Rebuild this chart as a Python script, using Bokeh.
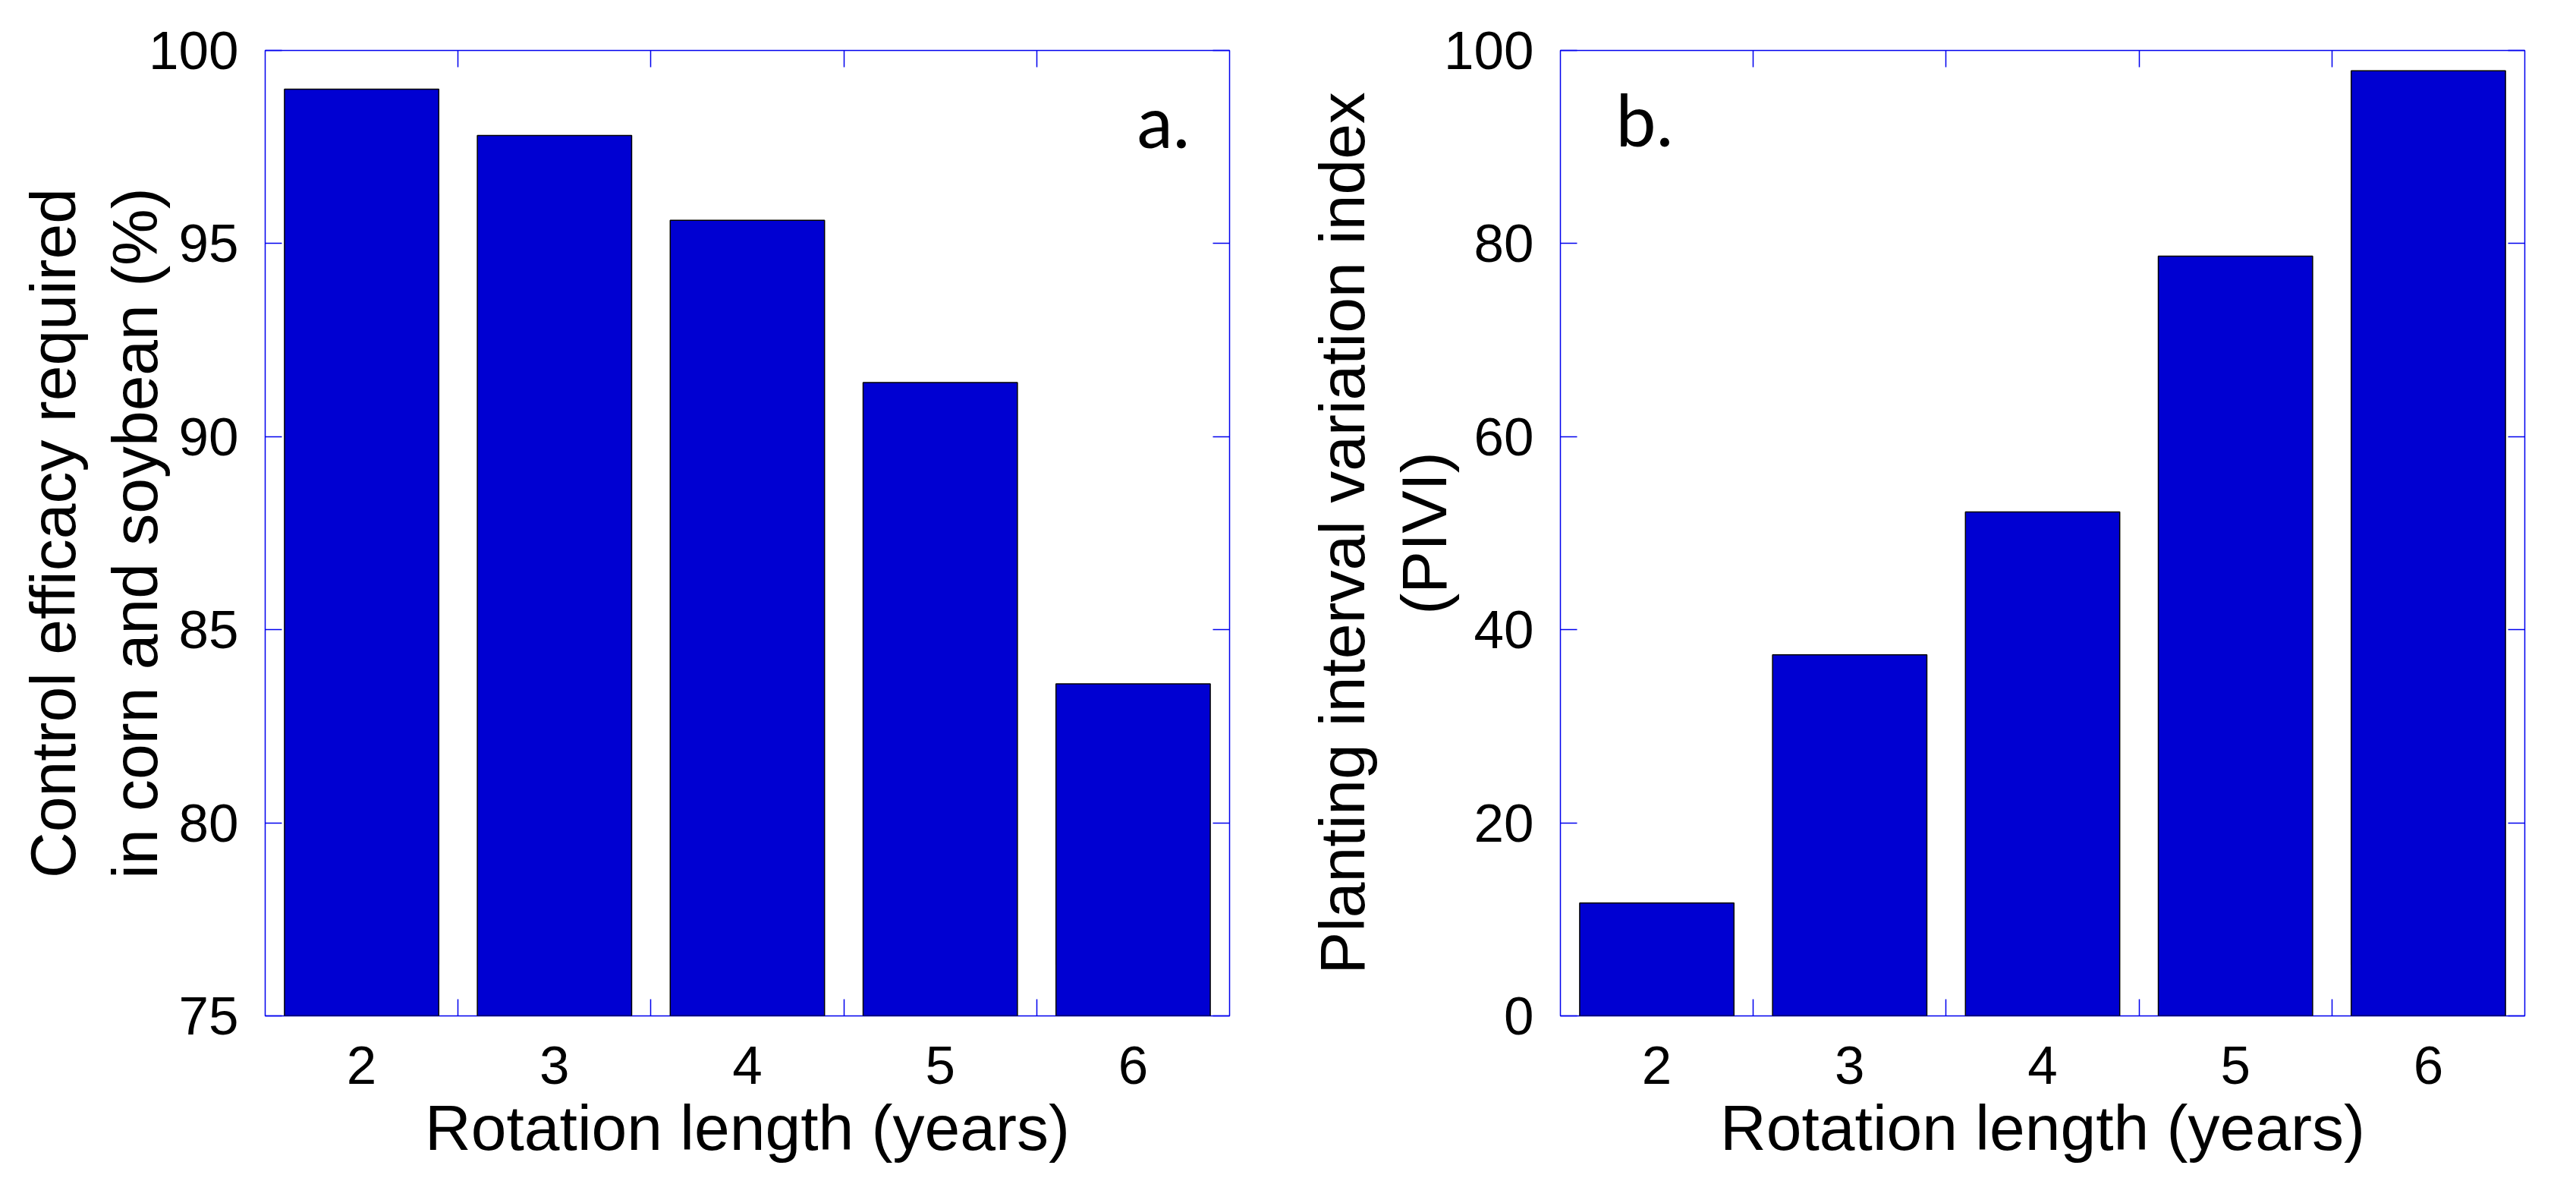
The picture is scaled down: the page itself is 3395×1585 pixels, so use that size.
from bokeh.plotting import figure
from bokeh.models import Range1d, FixedTicker, LinearAxis, Label
from bokeh.layouts import row
from bokeh.embed import file_html
from bokeh.resources import INLINE

# ---- data ----
rotation_years = [2, 3, 4, 5, 6]
control_efficacy = [99.0, 97.8, 95.6, 91.4, 83.6]   # panel a (%)
pivi = [11.7, 37.4, 52.2, 78.7, 97.9]               # panel b
yticks_a = [75, 80, 85, 90, 95, 100]
yticks_b = [0, 20, 40, 60, 80, 100]
xlabel = "Rotation length (years)"
ylabel_a = "Control efficacy required\nin corn and soybean (%)"
ylabel_b = "Planting interval variation index\n(PIVI)"
panel_tags = ["a.", "b."]

BAR = "#0000D2"
FRAME = "#0000EE"
TICK_FONT = "Liberation Sans"
TICK_SIZE = "71px"
TITLE_SIZE = "84px"

boundaries = [x + 0.5 for x in rotation_years[:-1]]


def make_panel(values, ylo, yhi, yticks, ylabel, tag, tag_x, tag_y,
               border_left, border_right, border_top, ylab_standoff):
    p = figure(frame_width=1271, frame_height=1272,
               x_range=Range1d(rotation_years[0] - 0.5, rotation_years[-1] + 0.5),
               y_range=Range1d(ylo, yhi),
               output_backend="svg", toolbar_location=None,
               x_axis_location=None, y_axis_location=None,
               min_border_left=border_left, min_border_right=border_right,
               min_border_top=border_top, min_border_bottom=228)
    p.xgrid.visible = False
    p.ygrid.visible = False
    p.outline_line_color = FRAME
    p.outline_line_width = 1.5
    p.background_fill_color = "white"
    p.border_fill_color = "white"

    p.vbar(x=rotation_years, top=values, bottom=ylo, width=0.8,
           fill_color=BAR, line_color="black", line_width=1.5)

    # bottom axis: labels at categories, inward ticks at category boundaries
    xb = LinearAxis(ticker=FixedTicker(ticks=rotation_years, minor_ticks=boundaries))
    xb.axis_line_color = None
    xb.major_tick_in = 0
    xb.major_tick_out = 0
    xb.minor_tick_in = 22
    xb.minor_tick_out = 0
    xb.minor_tick_line_color = FRAME
    xb.minor_tick_line_width = 1.5
    xb.major_label_text_font = TICK_FONT
    xb.major_label_text_font_size = TICK_SIZE
    xb.major_label_text_color = "black"
    xb.major_label_standoff = 40
    xb.axis_label = xlabel
    xb.axis_label_text_font = TICK_FONT
    xb.axis_label_text_font_size = TITLE_SIZE
    xb.axis_label_text_font_style = "normal"
    xb.axis_label_text_color = "black"
    xb.axis_label_standoff = 8
    p.add_layout(xb, "below")

    # top axis: inward ticks only
    xt = LinearAxis(ticker=FixedTicker(ticks=[], minor_ticks=boundaries))
    xt.axis_line_color = None
    xt.major_tick_in = 0
    xt.major_tick_out = 0
    xt.minor_tick_in = 22
    xt.minor_tick_out = 0
    xt.minor_tick_line_color = FRAME
    xt.minor_tick_line_width = 1.5
    xt.major_label_standoff = 0
    p.add_layout(xt, "above")

    # left axis
    yl = LinearAxis(ticker=FixedTicker(ticks=yticks))
    yl.axis_line_color = None
    yl.major_tick_in = 22
    yl.major_tick_out = 0
    yl.major_tick_line_color = FRAME
    yl.major_tick_line_width = 1.5
    yl.minor_tick_line_color = None
    yl.major_label_text_font = TICK_FONT
    yl.major_label_text_font_size = TICK_SIZE
    yl.major_label_text_color = "black"
    yl.major_label_standoff = 35
    yl.axis_label = ylabel
    yl.axis_label_text_font = TICK_FONT
    yl.axis_label_text_font_size = TITLE_SIZE
    yl.axis_label_text_font_style = "normal"
    yl.axis_label_text_color = "black"
    yl.axis_label_text_line_height = 1.15
    yl.axis_label_standoff = ylab_standoff
    p.add_layout(yl, "left")

    # right axis: inward ticks only
    yr = LinearAxis(ticker=FixedTicker(ticks=[], minor_ticks=yticks))
    yr.axis_line_color = None
    yr.major_tick_in = 0
    yr.major_tick_out = 0
    yr.minor_tick_in = 22
    yr.minor_tick_out = 0
    yr.minor_tick_line_color = FRAME
    yr.minor_tick_line_width = 1.5
    yr.major_label_standoff = 0
    p.add_layout(yr, "right")

    p.add_layout(Label(x=tag_x, y=tag_y, text=tag, text_font="Lato",
                       text_font_size="95px", text_color="black",
                       text_baseline="alphabetic", text_align="left"))
    return p


pa = make_panel(control_efficacy, 75, 100, yticks_a, ylabel_a, panel_tags[0],
                6.02, 98.2, 349, 72, 63, -32)
pb = make_panel(pivi, 0, 100, yticks_b, ylabel_b, panel_tags[1],
                1.787, 93.0, 364, 50, 66, -24)

layout = row(pa, pb)
open("out.html", "w").write(file_html(layout, INLINE))
